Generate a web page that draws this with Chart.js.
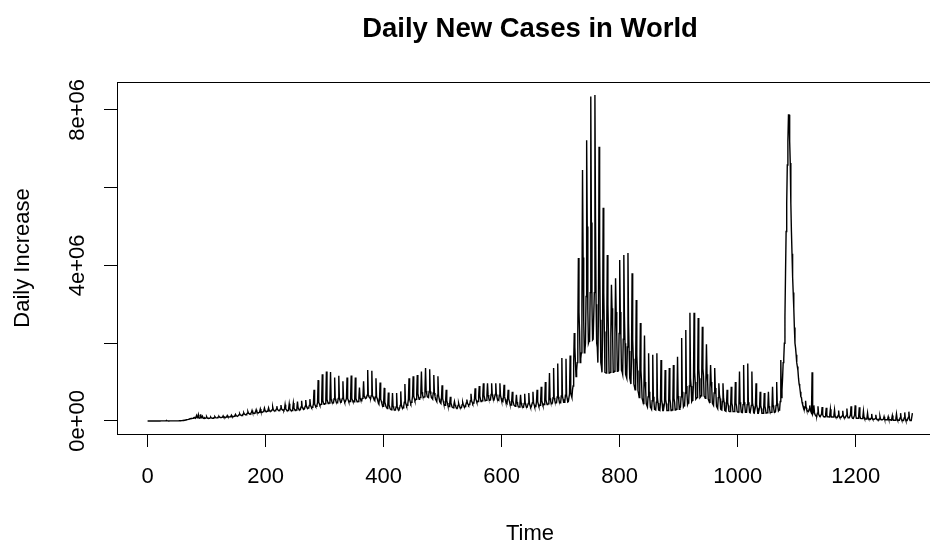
<!DOCTYPE html>
<html>
<head>
<meta charset="utf-8">
<style>
html,body{margin:0;padding:0;background:#fff;overflow:hidden;width:930px;height:542px;}
canvas{display:block;}
</style>
<script src="https://cdn.jsdelivr.net/npm/chart.js@4.4.1/dist/chart.umd.min.js"></script>
</head>
<body>
<canvas id="c" width="960" height="542"></canvas>
<script>
const chartTitle = 'Daily New Cases in World';
const xAxisTitle = 'Time';
const yAxisTitle = 'Daily Increase';
const UNIT = 10000; // values below are in units of 10,000 cases
const xTicks = [0, 200, 400, 600, 800, 1000, 1200];
const yTicks = [0, 2e6, 4e6, 6e6, 8e6];
const yTickLabels = ['0e+00', '', '4e+06', '', '8e+06'];

// daily new cases (x 10,000), day 0 .. 1296, one row per week
const dailyCases10k = [
0,0,0,0,0,0,0,
0,0,0,0,0,0,0,
0,0,0,0,0,0,0,
0.1,0.1,0.2,0.2,0.2,0.2,0.2,
0.2,0.2,0.2,0.3,1.5,0.4,0.3,
0.3,0.2,0.3,0.2,0.2,0.2,0.2,
0.2,0.2,0.2,0.1,0.2,0.2,0.2,
0.2,0.2,0.3,0.3,0.4,0.5,0.6,
0.7,0.8,1,1.1,1.3,1.5,1.7,
2,2.4,2.8,3.2,3.4,3.6,4,
4.5,5,5.5,6,6.2,6.4,6.8,
7,8,9,8,7,7,14,
8,9,16,8,7,8,17,
8,9,12,8,7,7,8,
7,8,11,8,7,7,7,
7,8,10,8,8,7,7,
8,9,11,9,8,8,8,
9,10,12,10,9,9,9,
9,10,13,10,10,9,9,
10,11,14,11,10,10,10,
11,12,15,12,11,11,11,
12,14,17,14,13,12,12,
14,16,19,16,15,14,14,
16,18,21,18,17,16,16,
18,20,24,20,19,18,18,
20,22,27,22,21,20,20,
21,24,29,24,22,21,21,
22,25,31,25,23,22,22,
24,27,33,27,25,24,24,
25,28,34,28,26,25,25,
26,29,36,29,27,26,26,
27,30,38,30,28,27,27,
28,31,41,31,29,28,28,
27,31,42,31,29,27,27,
27,32,44,32,29,27,27,
27,33,46,33,30,27,28,
28,34,50,34,31,28,29,
30,36,52,36,33,30,31,
32,38,54,38,35,32,33,
34,40,56,40,37,34,35,
37,44,80,44,40,37,38,
40,48,105,48,44,40,41,
43,52,120,52,47,43,44,
45,55,127,55,50,45,46,
46,56,126,56,51,46,47,
47,57,112,57,52,47,47,
48,58,116,58,53,48,48,
48,58,102,58,53,48,49,
49,58,112,58,54,49,49,
50,58,117,58,54,50,50,
49,58,112,58,54,49,50,
50,60,86,60,55,52,55,
58,64,102,64,61,58,59,
60,66,131,66,63,60,60,
59,65,129,65,62,58,57,
54,62,110,62,58,52,50,
46,56,99,56,51,45,42,
38,48,85,48,43,37,35,
32,42,73,42,37,31,30,
29,38,72,38,34,28,28,
28,36,72,36,32,28,29,
32,40,76,40,36,32,34,
38,48,95,48,43,38,40,
45,56,110,56,50,45,48,
52,64,115,64,58,52,54,
56,70,118,70,63,56,58,
60,74,127,74,67,60,61,
62,78,136,78,70,62,61,
60,76,133,76,68,60,58,
56,72,118,72,64,56,53,
50,66,115,66,58,50,47,
45,58,92,58,51,44,42,
40,52,80,52,46,39,38,
37,46,62,46,41,36,35,
34,42,50,42,38,34,33,
33,40,46,40,36,33,34,
35,42,48,42,38,35,37,
40,46,55,46,43,40,42,
44,52,70,52,48,44,46,
48,58,84,58,53,48,49,
50,64,90,64,57,50,51,
52,66,97,66,59,52,52,
53,67,97,67,60,53,53,
54,68,97,68,61,54,54,
54,68,97,68,61,54,54,
53,66,97,66,59,52,51,
50,62,93,62,56,49,47,
45,57,80,57,51,44,43,
41,52,75,52,46,40,39,
38,48,67,48,43,37,37,
36,46,67,46,41,36,36,
35,45,70,45,40,35,35,
35,45,72,45,40,35,36,
36,47,75,47,42,36,37,
38,50,80,50,44,38,39,
40,52,88,52,46,40,41,
42,55,100,55,48,42,43,
44,58,123,58,51,44,45,
46,60,136,60,53,46,46,
47,62,148,62,55,47,47,
48,64,162,64,56,48,48,
49,66,160,66,58,49,50,
50,70,168,72,65,60,80,
90,150,226,190,150,114,130,
150,230,419,280,230,150,160,
175,300,645,420,260,175,180,
200,320,722,500,285,200,205,
208,330,834,510,300,208,210,
210,330,838,520,300,200,190,
150,280,705,440,260,150,140,
125,240,548,330,230,125,124,
123,230,427,300,220,123,124,
125,225,350,290,220,125,126,
128,225,367,280,220,128,129,
130,225,414,280,220,130,127,
120,210,427,270,200,120,115,
110,190,432,250,180,110,103,
95,165,380,210,160,95,88,
80,135,311,170,130,78,70,
60,105,252,130,100,58,52,
45,80,220,100,80,44,40,
36,62,174,75,60,35,33,
30,52,170,62,50,30,29,
28,48,174,58,46,28,28,
27,46,157,55,45,27,27,
27,46,131,55,45,27,27,
27,47,136,56,46,27,28,
28,49,144,58,48,28,29,
30,54,165,64,52,30,33,
36,62,213,75,60,36,39,
42,72,234,90,70,42,46,
50,90,278,110,90,50,53,
56,100,278,125,100,56,58,
60,110,265,135,110,60,62,
65,115,242,135,115,64,62,
58,100,197,120,100,56,52,
48,85,144,100,85,46,43,
40,72,136,85,72,38,35,
32,60,97,68,58,31,29,
28,50,97,58,48,27,26,
25,42,80,48,40,25,24,
24,40,88,46,38,24,24,
24,40,100,46,38,24,23,
23,42,127,48,40,23,22,
22,42,144,48,40,22,22,
22,42,148,48,40,22,21,
21,40,127,46,38,21,20,
20,36,97,42,34,20,20,
20,34,75,40,32,20,20,
20,33,72,38,31,20,20,
21,33,75,38,31,21,21,
22,35,88,40,33,22,23,
24,40,100,45,38,26,28,
30,50,157,60,80,110,150,
160,200,268,380,487,560,658,
720,787,787,720,663,560,487,
430,371,330,290,240,200,188,
170,150,140,130,110,95,88,
75,62,60,48,42,38,32,
30,36,52,34,28,26,25,
24,30,40,28,24,22,125,
18,22,40,22,16,14,14,
13,20,38,18,14,12,12,
12,18,36,16,12,11,11,
11,17,34,15,11,11,11,
10,16,30,14,10,10,10,
10,15,28,13,10,9,9,
9,14,27,12,9,9,9,
9,13,26,12,9,8,8,
8,14,32,13,8,8,8,
8,15,38,14,8,7,7,
7,15,40,14,7,7,7,
7,14,35,13,7,6,6,
6,10,25,10,6,5,5,
5,8,20,8,5,5,5,
4,7,18,7,4,4,4,
4,6,16,6,4,4,4,
3,5,12,5,3,3,3,
3,5,11,5,3,3,3,
3,5,11,5,3,3,3,
2,6,14,5,2,2,2,
2,7,18,6,2,2,2,
2,8,20,6,2,1,1,
1,8,22,6,1,1,1,
1,9,24,6,1,1,1,
1,20
];

const points = dailyCases10k.map((v, i) => ({ x: i, y: v * UNIT }));
const xDataMax = dailyCases10k.length - 1;
const yDataMax = Math.max(...dailyCases10k) * UNIT;

const FONT = '"Liberation Sans", Arial, Helvetica, sans-serif';

const rStyle = {
  id: 'rStyle',
  afterDraw(chart) {
    const { ctx, chartArea: a, scales: { y } } = chart;
    ctx.save();
    ctx.strokeStyle = '#000';
    ctx.lineWidth = 1;
    ctx.strokeRect(a.left + 0.5, a.top + 0.5, a.right - a.left, a.bottom - a.top);
    ctx.fillStyle = '#000';
    ctx.textAlign = 'center';
    ctx.textBaseline = 'alphabetic';
    ctx.font = 'bold 27.5px ' + FONT;
    ctx.fillText(chartTitle, (a.left + a.right) / 2, 36.7);
    ctx.font = '22px ' + FONT;
    ctx.fillText(xAxisTitle, (a.left + a.right) / 2, 539.5);
    yTicks.forEach((v, i) => {
      if (!yTickLabels[i]) return;
      const py = y.getPixelForValue(v);
      ctx.save();
      ctx.translate(a.left - 33.5, py);
      ctx.rotate(-Math.PI / 2);
      ctx.fillText(yTickLabels[i], 0, 0);
      ctx.restore();
    });
    ctx.save();
    ctx.translate(a.left - 88, (a.top + a.bottom) / 2);
    ctx.rotate(-Math.PI / 2);
    ctx.fillText(yAxisTitle, 0, 0);
    ctx.restore();
    ctx.restore();
  }
};

new Chart(document.getElementById('c'), {
  type: 'line',
  data: {
    datasets: [{
      data: points,
      borderColor: '#000',
      borderWidth: 1.4,
      pointRadius: 0,
      tension: 0,
      fill: false
    }]
  },
  options: {
    responsive: false,
    animation: false,
    devicePixelRatio: 1,
    events: [],
    layout: { padding: { top: 82, right: 17, left: 0, bottom: 0 } },
    plugins: { legend: { display: false }, title: { display: false }, tooltip: { enabled: false } },
    scales: {
      x: {
        type: 'linear',
        min: -0.04 * xDataMax,
        max: 1.04 * xDataMax,
        afterBuildTicks: s => { s.ticks = xTicks.map(v => ({ value: v })); },
        afterFit: s => { s.height = 108; },
        grid: { drawOnChartArea: false, drawTicks: true, tickLength: 13, color: '#000', lineWidth: 1 },
        border: { display: false },
        ticks: {
          autoSkip: false, maxRotation: 0, minRotation: 0, padding: 17,
          color: '#000', font: { family: FONT, size: 22 },
          callback: v => String(v)
        }
      },
      y: {
        type: 'linear',
        min: -0.04 * yDataMax,
        max: 1.04 * yDataMax,
        afterBuildTicks: s => { s.ticks = yTicks.map(v => ({ value: v })); },
        afterFit: s => { s.width = 117; },
        grid: { drawOnChartArea: false, drawTicks: true, tickLength: 13, color: '#000', lineWidth: 1 },
        border: { display: false },
        ticks: {
          autoSkip: false, color: 'rgba(0,0,0,0)', font: { family: FONT, size: 22 },
          callback: (v, i) => yTickLabels[i] || ' '
        }
      }
    }
  },
  plugins: [rStyle]
});
</script>
</body>
</html>
